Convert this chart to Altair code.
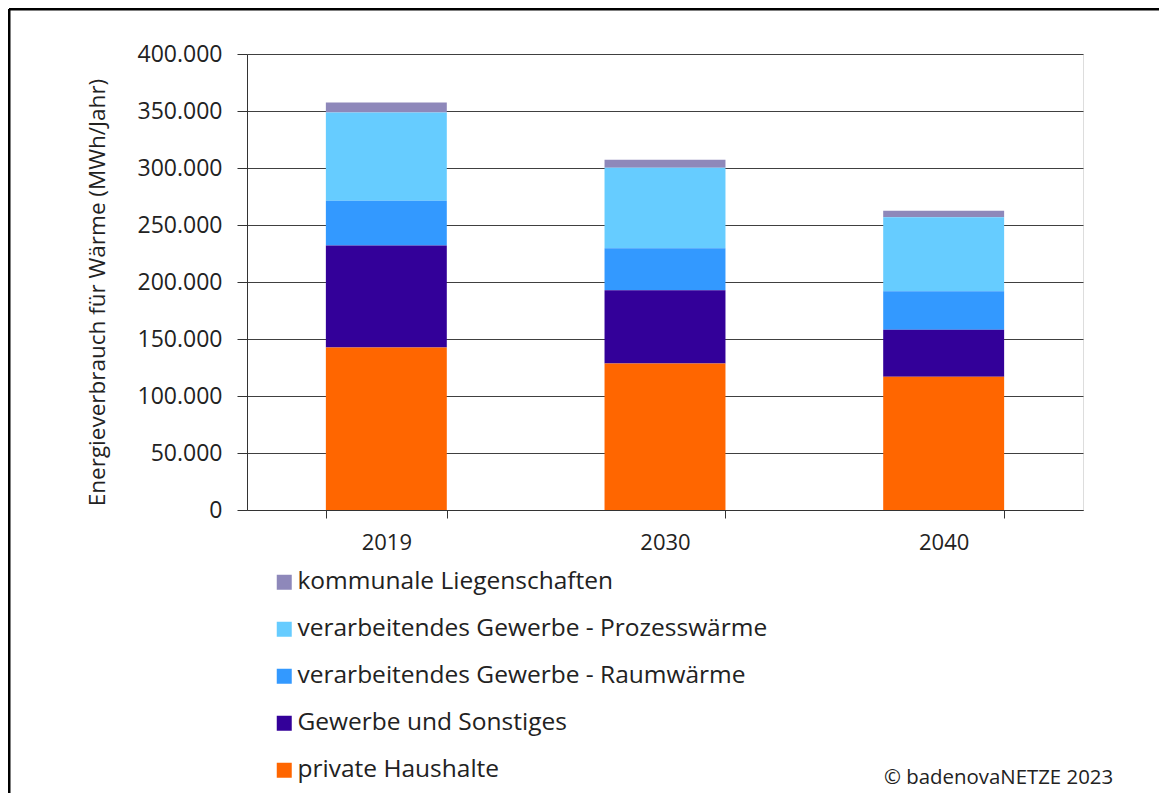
import altair as alt
import pandas as pd

years = ["2019", "2030", "2040"]
categories = [
    "kommunale Liegenschaften",
    "verarbeitendes Gewerbe - Prozesswärme",
    "verarbeitendes Gewerbe - Raumwärme",
    "Gewerbe und Sonstiges",
    "private Haushalte",
]
colors = ["#8E88BA", "#66CCFF", "#3399FF", "#330099", "#FF6600"]
kommunale = [8800, 7050, 5600]
prozess = [77350, 70650, 65050]
raum = [39250, 36900, 33650]
gewerbe = [89400, 64150, 41300]
haushalte = [142600, 128550, 116850]
y_title = "Energieverbrauch für Wärme (MWh/Jahr)"
credit = ["© badenovaNETZE 2023"]

series = [kommunale, prozess, raum, gewerbe, haushalte]
rows = []
for ci, (cat, vals) in enumerate(zip(categories, series)):
    for y, v in zip(years, vals):
        rows.append({"Jahr": y, "Sektor": cat, "Wert": v, "stack": len(categories) - ci})
df = pd.DataFrame(rows)

FONT = "Open Sans"

bars = alt.Chart(df).mark_bar().encode(
    x=alt.X("Jahr:N", sort=years,
            scale=alt.Scale(paddingInner=0.566, paddingOuter=0.283),
            axis=alt.Axis(title=None, labelAngle=0, tickBand="extent", tickSize=8,
                          labelPadding=14, labelFontSize=22, labelFont=FONT,
                          labelColor="#222222", domainColor="#333333", tickColor="#333333",
                          grid=False)),
    y=alt.Y("Wert:Q", stack="zero",
            scale=alt.Scale(domain=[0, 400000], nice=False),
            axis=alt.Axis(title=y_title, values=list(range(0, 400001, 50000)),
                          labelExpr="replace(format(datum.value, ','), ',', '.')",
                          tickSize=10, labelPadding=15, labelFontSize=23, labelFont=FONT,
                          labelColor="#222222", domainColor="#333333", tickColor="#333333",
                          gridColor="#404040", gridWidth=1,
                          titleFontSize=22.5, titleFont=FONT, titleFontWeight="normal",
                          titleColor="#222222", titleX=-150, titleY=238,
                          titleAlign="center", titleBaseline="middle", titleAngle=270)),
    color=alt.Color("Sektor:N", sort=categories,
                    scale=alt.Scale(domain=categories, range=colors),
                    legend=alt.Legend(title=None, orient="none", legendX=25, legendY=516,
                                      symbolType="square", symbolSize=225,
                                      symbolStrokeWidth=0, labelFontSize=24.5, labelFont=FONT,
                                      labelColor="#222222", labelOffset=1, rowPadding=22,
                                      padding=0, labelLimit=700)),
    order=alt.Order("stack:Q", sort="ascending"),
)

frame_top = alt.Chart(pd.DataFrame({"a": [0]})).mark_rule(color="black", strokeWidth=3).encode(
    x=alt.value(-238), x2=alt.value(930), y=alt.value(-45))
frame_left = alt.Chart(pd.DataFrame({"a": [0]})).mark_rule(color="black", strokeWidth=3).encode(
    x=alt.value(-238), y=alt.value(-45), y2=alt.value(760))

credit_text = alt.Chart(pd.DataFrame({"t": credit})).mark_text(
    align="left", baseline="middle", fontSize=20.4, font=FONT, color="#222222"
).encode(text="t:N", x=alt.value(637), y=alt.value(724))

chart = alt.layer(bars, frame_top, frame_left, credit_text).properties(
    width=836, height=456,
    autosize=alt.AutoSizeParams(type="none"),
    padding={"left": 239, "top": 46, "right": 76, "bottom": 283},
).configure_view(stroke="#666666", strokeWidth=1.5).configure(background="white")

chart.save("out.html", embed_options={"renderer": "svg", "actions": False})
